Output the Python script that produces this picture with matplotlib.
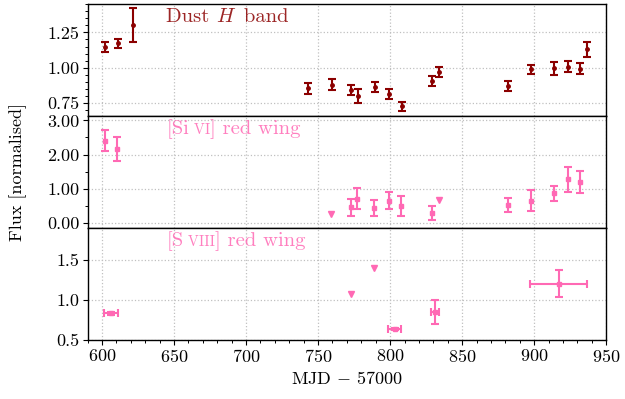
import matplotlib
matplotlib.use("Agg")
import matplotlib.pyplot as plt
from matplotlib.ticker import FixedLocator, MultipleLocator, FormatStrFormatter
from matplotlib.transforms import offset_copy

plt.rcParams.update({
    "font.family": "serif",
    "font.serif": ["cmr10"],
    "mathtext.fontset": "cm",
    "axes.formatter.use_mathtext": True,
    "font.size": 13,
    "axes.unicode_minus": True,
})

DARK_RED = "#8B0000"
PINK = "#FF69B4"

# Dust H-band light curve
dust_mjd = [602.3, 610.9, 621.4, 743.2, 759.4, 773.2, 777.4, 789.4, 799.3,
            808.3, 829.1, 834.2, 882.0, 897.7, 913.7, 923.6, 931.7, 936.5]
dust_flux = [1.144, 1.172, 1.30, 0.854, 0.882, 0.842, 0.799, 0.865, 0.818,
             0.729, 0.908, 0.971, 0.870, 0.988, 0.995, 1.007, 0.993, 1.130]
dust_err = [0.035, 0.033, 0.12, 0.040, 0.039, 0.035, 0.050, 0.035, 0.035,
            0.032, 0.035, 0.035, 0.035, 0.035, 0.047, 0.040, 0.040, 0.055]

# [Si VI] red wing detections and upper limits
si_mjd = [602.3, 610.8, 772.8, 776.9, 788.9, 798.9, 807.6, 828.9,
          881.6, 897.5, 913.4, 923.4, 931.5]
si_flux = [2.40, 2.15, 0.45, 0.71, 0.44, 0.65, 0.50, 0.28,
           0.52, 0.65, 0.86, 1.27, 1.20]
si_err = [0.31, 0.35, 0.24, 0.30, 0.23, 0.25, 0.30, 0.21,
          0.20, 0.30, 0.21, 0.38, 0.32]
si_lim_mjd = [758.7, 833.8]
si_lim_flux = [0.25, 0.67]

# [S VIII] red wing detections and upper limits
s_mjd = [606.4, 803.3, 831.0, 916.9]
s_mjd_err = [5.0, 4.5, 2.9, 19.5]
s_flux = [0.834, 0.64, 0.85, 1.205]
s_err = [0.02, 0.015, 0.15, 0.167]
s_lim_mjd = [772.8, 788.7]
s_lim_flux = [1.07, 1.40]

fig = plt.figure(figsize=(6.25, 3.99), dpi=100)
gs = fig.add_gridspec(3, 1, left=0.14, right=0.97, bottom=0.148, top=0.99, hspace=0)
axes = [fig.add_subplot(gs[i]) for i in range(3)]
for ax in axes[1:]:
    ax.sharex(axes[0])

eb_kw = dict(ls="none", elinewidth=1.5, capsize=3, capthick=1.5)

axes[0].errorbar(dust_mjd, dust_flux, yerr=dust_err, fmt="o", ms=2.5,
                 color=DARK_RED, **eb_kw)
axes[1].errorbar(si_mjd, si_flux, yerr=si_err, fmt="s", ms=3.5,
                 color=PINK, **eb_kw)
axes[1].plot(si_lim_mjd, si_lim_flux, "v", ms=5, color=PINK, ls="none")
axes[2].errorbar(s_mjd, s_flux, xerr=s_mjd_err, yerr=s_err, fmt="s", ms=3.5,
                 color=PINK, **eb_kw)
axes[2].plot(s_lim_mjd, s_lim_flux, "v", ms=5, color=PINK, ls="none")

axes[0].set_xlim(590, 950)
axes[0].set_ylim(0.66, 1.45)
axes[1].set_ylim(-0.15, 3.13)
axes[2].set_ylim(0.5, 1.9)

axes[0].yaxis.set_major_locator(FixedLocator([0.75, 1.00, 1.25]))
axes[0].yaxis.set_minor_locator(MultipleLocator(0.05))
axes[0].yaxis.set_major_formatter(FormatStrFormatter("%.2f"))
axes[1].yaxis.set_major_locator(FixedLocator([0, 1, 2, 3]))
axes[1].yaxis.set_minor_locator(MultipleLocator(0.5))
axes[1].yaxis.set_major_formatter(FormatStrFormatter("%.2f"))
axes[2].yaxis.set_major_locator(FixedLocator([0.5, 1.0, 1.5]))
axes[2].yaxis.set_major_formatter(FormatStrFormatter("%.1f"))
axes[2].xaxis.set_major_locator(MultipleLocator(50))
axes[2].xaxis.set_minor_locator(MultipleLocator(10))

for i, ax in enumerate(axes):
    ax.grid(True, which="major", ls=":", color="#c0c0c0", lw=0.9)
    ax.set_axisbelow(True)
    ax.tick_params(which="major", direction="out", length=3.5, width=0.8,
                   labelsize=13, pad=2.5)
    ax.tick_params(which="minor", direction="out", length=2, width=0.7)
    for sp in ax.spines.values():
        sp.set_linewidth(1.0)
    if i < 2:
        ax.tick_params(axis="x", which="both", bottom=False, labelbottom=False)
    else:
        ax.yaxis.set_minor_locator(FixedLocator([]))

axes[2].set_xlabel(r"MJD $-$ 57000", fontsize=13, labelpad=3.5)
fig.text(0.029, 0.569, "Flux [normalised]", rotation=90, ha="center",
         va="center", fontsize=13)

renderer = fig.canvas.get_renderer()


def label(ax, pieces, color, x=0.152, y=0.835):
    """Draw a run of text pieces of varying size side by side."""
    shift = 0.0
    for s, size in pieces:
        tr = offset_copy(ax.transAxes, fig=fig, x=shift, y=0, units="points")
        t = ax.text(x, y, s, transform=tr, fontsize=size, color=color,
                    va="baseline", ha="left", alpha=0.85)
        w = t.get_window_extent(renderer).width
        shift += w * 72.0 / fig.dpi


label(axes[0], [("Dust ", 14.8), (r"$H$", 14.8), (" band", 14.8)], DARK_RED)
label(axes[1], [("[Si", 14.8), (" VI", 10.5), ("] red wing", 14.8)], PINK)
label(axes[2], [("[S", 14.8), (" VIII", 10.5), ("] red wing", 14.8)], PINK)

fig.savefig("out.png", dpi=100)
